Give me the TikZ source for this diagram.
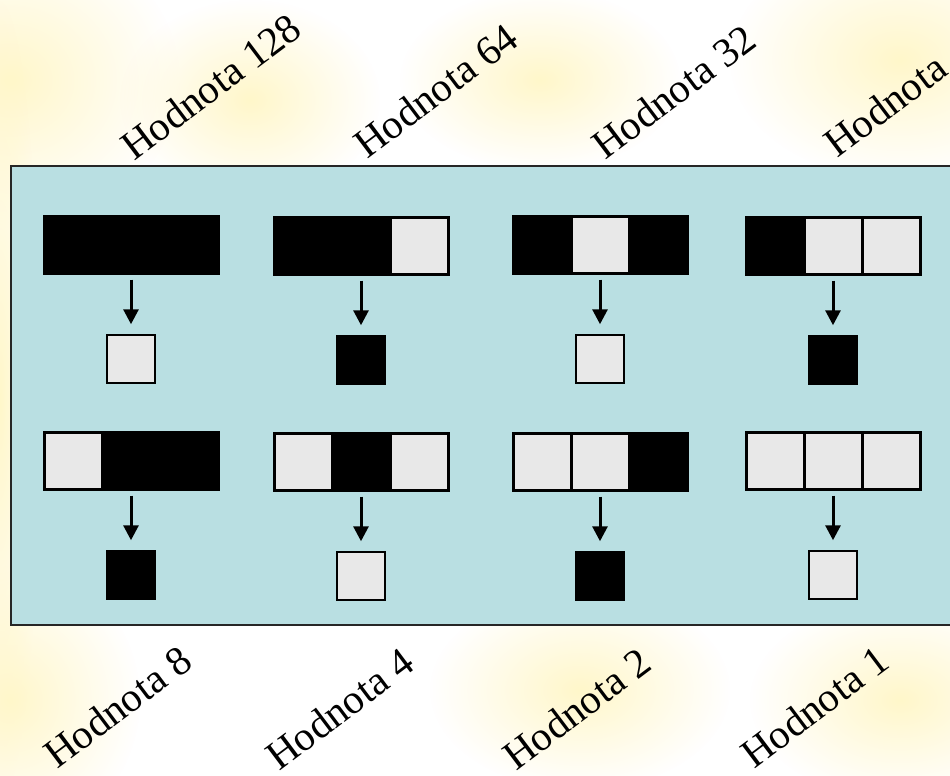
\documentclass[tikz,border=0pt]{standalone}
\usepackage{fontspec}
\setmainfont{Liberation Serif}
\usetikzlibrary{arrows.meta,fadings}
\definecolor{panel}{HTML}{B9DFE2}
\definecolor{cellw}{HTML}{E8E8E8}
\definecolor{glow}{HTML}{FFF7CA}
\tikzfading[name=softglow, inner color=transparent!0, outer color=transparent!100]
\tikzset{
  cellbox/.style={draw=black, line width=3pt, minimum width=58pt, minimum height=57pt, inner sep=0pt, outer sep=0pt},
  cellon/.style={fill=black},
  celloff/.style={fill=cellw},
  resbox/.style={draw=black, line width=1.5pt, minimum size=48pt, inner sep=0pt},
  flow/.style={line width=3pt, -{Triangle[width=15pt,length=15pt]}},
  lbl/.style={anchor=base west, inner sep=0pt, rotate=37, font=\fontsize{41}{46}\selectfont},
  glowblob/.style={fill=glow, path fading=softglow}
}
\newcommand\cellgroup[7]{%
  \node[cellbox,#4] (#1a) at (#2-58,#3) {};
  \node[cellbox,#5] (#1b) at (#2,#3) {};
  \node[cellbox,#6] (#1c) at (#2+58,#3) {};
  \node[resbox,#7] (#1r) at (#2,#3+114) {};
  \draw[flow] ([yshift=-6pt]#1b.south) -- ([yshift=10pt]#1r.north);
}
\begin{document}
\begin{tikzpicture}[x=1pt,y=-1pt]
  \useasboundingbox (0,0) rectangle (950,776);
  \fill[white] (0,0) rectangle (950,776);
  % soft yellow glow in the background
  \fill[glowblob] (10,80) ellipse (170 and 150);
  \fill[glowblob] (250,100) ellipse (130 and 100);
  \fill[glowblob] (900,60) ellipse (170 and 120);
  \fill[glowblob] (0,400) ellipse (40 and 400);
  \fill[glowblob] (10,700) ellipse (130 and 140);
  \fill[glowblob] (580,690) ellipse (150 and 100);
  \fill[glowblob] (900,700) ellipse (150 and 100);
  \fill[glowblob] (540,80) ellipse (140 and 90);
  % panel
  \draw[fill=panel, draw=black!85, line width=1.8pt] (11,166) rectangle (965,625);
  % row 1
  \cellgroup{g1}{131}{245}{cellon}{cellon}{cellon}{celloff}
  \cellgroup{g2}{361}{246}{cellon}{cellon}{celloff}{cellon}
  \cellgroup{g3}{600}{245}{cellon}{celloff}{cellon}{celloff}
  \cellgroup{g4}{833}{246}{cellon}{celloff}{celloff}{cellon}
  % row 2
  \cellgroup{g5}{131}{461}{celloff}{cellon}{cellon}{cellon}
  \cellgroup{g6}{361}{462}{celloff}{cellon}{celloff}{celloff}
  \cellgroup{g7}{600}{462}{celloff}{celloff}{cellon}{cellon}
  \cellgroup{g8}{833}{461}{celloff}{celloff}{celloff}{celloff}
  % labels
  \node[lbl] (t1) at (134,162) {Hodnota 128};
  \node[lbl] (t2) at (367,160) {Hodnota 64};
  \node[lbl] (t3) at (605,161) {Hodnota 32};
  \node[lbl] (t4) at (837,159) {Hodnota};
  \node[lbl] (b1) at (57,770) {Hodnota 8};
  \node[lbl] (b2) at (279,772) {Hodnota 4};
  \node[lbl] (b3) at (516,772) {Hodnota 2};
  \node[lbl] (b4) at (754,770) {Hodnota 1};
\end{tikzpicture}
\end{document}
